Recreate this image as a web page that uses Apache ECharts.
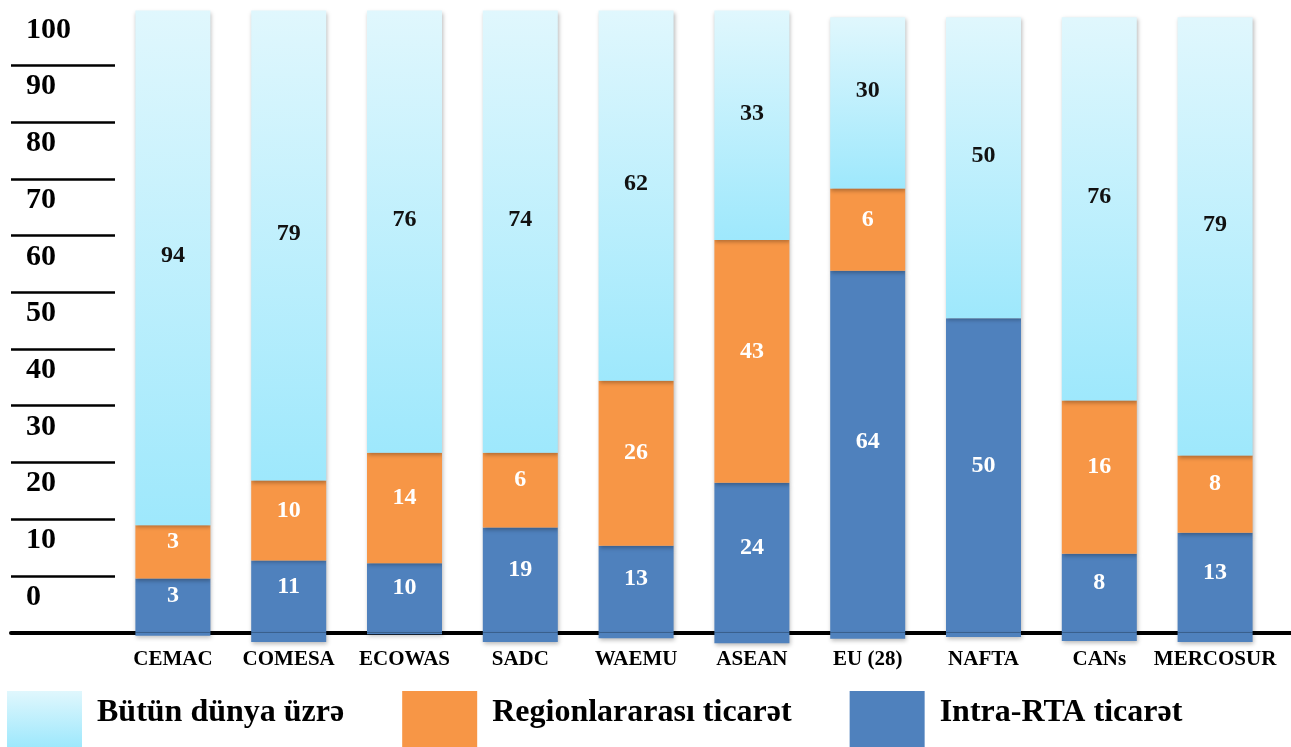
<!DOCTYPE html>
<html>
<head>
<meta charset="utf-8">
<script src="https://cdn.jsdelivr.net/npm/echarts@6/dist/echarts.min.js"></script>
<style>
  html, body { margin: 0; padding: 0; background: #fff; }
  #main { width: 1291px; height: 747px; }
</style>
</head>
<body>
<div id="main"></div>
<script>
// kateqoriyalar
var categories = ['CEMAC', 'COMESA', 'ECOWAS', 'SADC', 'WAEMU', 'ASEAN', 'EU (28)', 'NAFTA', 'CANs', 'MERCOSUR'];

// sütunların şəkildə görünən hündürlükləri (ox vahidi ilə)
var intraHeight = [9.5, 12.7, 12.2, 18.5, 15.3, 26.4, 63.8, 55.4, 13.9, 17.6];
var intraBelow = [-0.6, -1.7, -0.3, -1.7, -1.0, -1.9, -1.1, -0.8, -1.5, -1.7];
var interHeight = [9.4, 14.1, 19.5, 13.2, 29.1, 42.8, 14.5, 0, 27.0, 13.6];
var worldHeight = [90.8, 82.9, 78.0, 78.0, 65.3, 40.5, 30.2, 53.1, 67.6, 77.3];

// etiketlərdə yazılan dəyərlər
var intraLabels = [3, 11, 10, 19, 13, 24, 64, 50, 8, 13];
var interLabels = [3, 10, 14, 6, 26, 43, 6, null, 16, 8];
var worldLabels = [94, 79, 76, 74, 62, 33, 30, 50, 76, 79];

var yTicks = [10, 20, 30, 40, 50, 60, 70, 80, 90, 100];
var yLabels = [0, 10, 20, 30, 40, 50, 60, 70, 80, 90, 100];

// şkala: ox -2..110, yazılar xəttin təxminən 6.26 vahid yuxarısında durur
var Y_MIN = -2, Y_MAX = 110, LABEL_SHIFT = 6.26;

var FONT = "'Liberation Serif', 'Times New Roman', serif";

var myChart = echarts.init(document.getElementById('main'));

var shadow = {
    shadowBlur: 4,
    shadowOffsetX: 1,
    shadowOffsetY: 2,
    shadowColor: 'rgba(0, 0, 0, 0.28)'
};

function labelFrom(arr, color, offset) {
    return {
        show: true,
        position: 'inside',
        offset: offset || [0, 0],
        color: color,
        fontFamily: FONT,
        fontWeight: 'bold',
        fontSize: 24,
        formatter: function (p) {
            var v = arr[p.dataIndex];
            return v == null ? '' : String(v);
        }
    };
}

var option = {
    animation: false,
    backgroundColor: '#fff',
    grid: [
        { left: 115, right: 18, top: 8.8, bottom: 103.2, containLabel: false, outerBoundsMode: 'none' },
        { left: 11, right: 0, top: 8.8, bottom: 114.5, containLabel: false, outerBoundsMode: 'none' }
    ],
    legend: {
        left: 7,
        top: 691,
        padding: 0,
        itemWidth: 75,
        itemHeight: 56,
        itemGap: 58,
        icon: 'rect',
        data: ['Bütün dünya üzrə', 'Regionlararası ticarət', 'Intra-RTA ticarət'],
        formatter: function (name) {
            return '{t|' + name + '}\n{s| }';
        },
        textStyle: {
            fontFamily: FONT,
            fontWeight: 'bold',
            fontSize: 32,
            color: '#000',
            padding: [0, 0, 0, 10],
            rich: {
                t: { fontFamily: FONT, fontWeight: 'bold', fontSize: 32, lineHeight: 32, color: '#000' },
                s: { fontSize: 1, lineHeight: 12 }
            }
        }
    },
    xAxis: [
        {
            type: 'category',
            gridIndex: 0,
            data: categories,
            axisLine: { show: false, onZero: true },
            axisTick: { show: false },
            axisLabel: {
                interval: 0,
                margin: 5,
                color: '#000',
                fontFamily: FONT,
                fontWeight: 'bold',
                fontSize: 21
            }
        },
        {
            type: 'value',
            gridIndex: 1,
            min: 0,
            max: 1,
            axisLine: { show: true, lineStyle: { color: '#000', width: 4 } },
            axisTick: { show: false },
            axisLabel: { show: false },
            splitLine: { show: false }
        }
    ],
    yAxis: [
        {
            type: 'value',
            gridIndex: 0,
            min: Y_MIN,
            max: Y_MAX,
            axisLine: { show: false },
            splitLine: { show: false },
            axisLabel: { show: false },
            axisTick: {
                show: true,
                customValues: yTicks,
                length: 104,
                lineStyle: { color: '#000', width: 2.5 }
            }
        },
        {
            // yalnız yazılar üçün ox, yuxarı sürüşdürülmüş
            type: 'value',
            gridIndex: 0,
            position: 'left',
            offset: 0,
            min: Y_MIN - LABEL_SHIFT,
            max: Y_MAX - LABEL_SHIFT,
            axisLine: { show: false },
            axisTick: { show: false },
            splitLine: { show: false },
            axisLabel: {
                customValues: yLabels,
                showMinLabel: true,
                showMaxLabel: true,
                hideOverlap: false,
                align: 'left',
                verticalAlign: 'middle',
                margin: 89,
                color: '#000',
                fontFamily: FONT,
                fontWeight: 'bold',
                fontSize: 30
            }
        },
        {
            type: 'value',
            gridIndex: 1,
            show: false,
            min: 0,
            max: 1
        }
    ],
    series: [
        {
            name: 'Intra-RTA ticarət',
            type: 'bar',
            stack: 'total',
            barWidth: 75,
            data: intraHeight,
            itemStyle: Object.assign({ color: '#4F81BD' }, shadow),
            label: labelFrom(intraLabels, '#fff', [0, -10]),
            z: 3
        },
        {
            name: 'Intra-RTA ticarət',
            type: 'bar',
            stack: 'total',
            barWidth: 75,
            data: intraBelow,
            itemStyle: Object.assign({ color: '#4F81BD' }, shadow),
            z: 3
        },
        {
            name: 'Regionlararası ticarət',
            type: 'bar',
            stack: 'total',
            barWidth: 75,
            data: interHeight,
            itemStyle: Object.assign({ color: '#F79646' }, shadow),
            label: labelFrom(interLabels, '#fff', [0, -10]),
            z: 3
        },
        {
            name: 'Bütün dünya üzrə',
            type: 'bar',
            stack: 'total',
            barWidth: 75,
            data: worldHeight,
            itemStyle: Object.assign({
                color: new echarts.graphic.LinearGradient(0, 0, 0, 1, [
                    { offset: 0, color: '#E0F7FD' },
                    { offset: 1, color: '#9EE8FC' }
                ])
            }, shadow),
            label: labelFrom(worldLabels, '#111', [0, -12]),
            z: 3
        }
    ]
};

myChart.setOption(option);
</script>
</body>
</html>
